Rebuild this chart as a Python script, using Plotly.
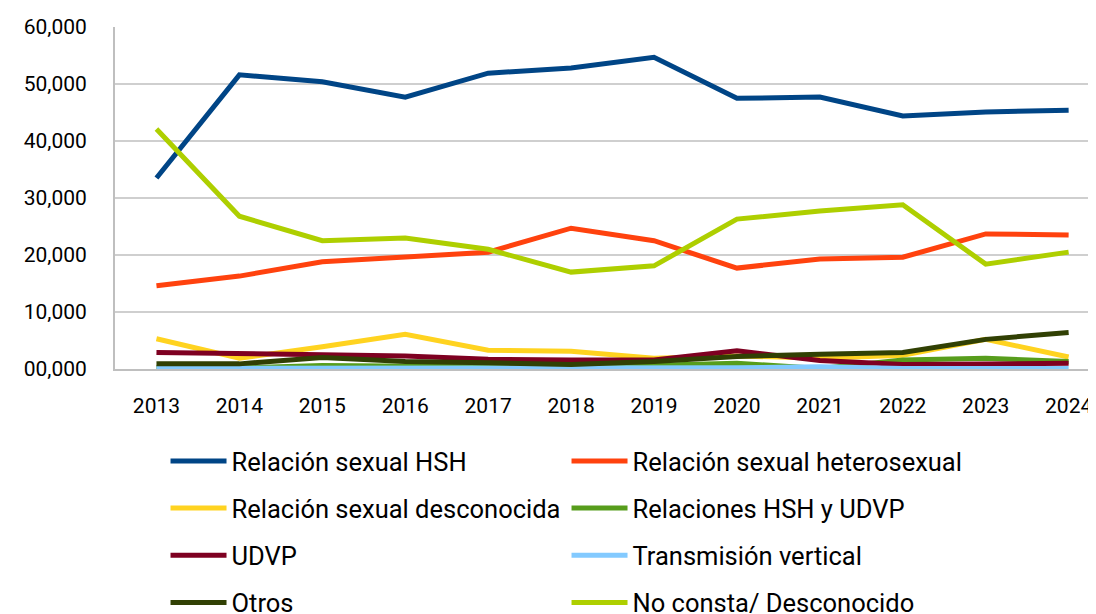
import plotly.graph_objects as go

years = ["2013", "2014", "2015", "2016", "2017", "2018",
         "2019", "2020", "2021", "2022", "2023", "2024"]

hsh = [33500, 51600, 50400, 47700, 51900, 52800, 54700, 47500, 47700, 44400, 45100, 45400]
hetero = [14600, 16300, 18800, 19600, 20500, 24700, 22500, 17700, 19300, 19600, 23700, 23500]
desconocida = [5300, 1900, 3900, 6100, 3300, 3100, 1900, 2300, 1900, 2400, 5200, 2100]
hsh_udvp = [200, 200, 600, 400, 400, 300, 700, 1000, 100, 1600, 1900, 1300]
udvp = [2900, 2600, 2500, 2300, 1700, 1600, 1600, 3200, 1500, 800, 1000, 1000]
vertical = [100, 100, 100, 100, 100, 100, 100, 200, 400, 100, 100, 100]
otros = [900, 900, 2000, 1300, 1100, 800, 1300, 2200, 2600, 2900, 5200, 6400]
no_consta = [42100, 26800, 22500, 23000, 21000, 17000, 18100, 26300, 27700, 28800, 18400, 20500]

y_ticks = [0, 10000, 20000, 30000, 40000, 50000, 60000]
y_labels = ["00,000", "10,000", "20,000", "30,000", "40,000", "50,000", "60,000"]

series = [
    ("Relación sexual HSH", hsh, "#004586", "legend"),
    ("Relación sexual heterosexual", hetero, "#ff420e", "legend"),
    ("Relación sexual desconocida", desconocida, "#ffd320", "legend2"),
    ("Relaciones HSH y UDVP", hsh_udvp, "#579d1c", "legend2"),
    ("UDVP", udvp, "#7e0021", "legend3"),
    ("Transmisión vertical", vertical, "#83caff", "legend3"),
    ("Otros", otros, "#314004", "legend4"),
    ("No consta/ Desconocido", no_consta, "#aecf00", "legend4"),
]

fig = go.Figure()
for name, vals, color, leg in series:
    fig.add_trace(go.Scatter(
        x=years, y=vals, name=name, mode="lines",
        line=dict(color=color, width=5),
        legend=leg
    ))

# one legend per row so the rows sit as far apart as in the original
legend_font = dict(family="Roboto, sans-serif", size=25.5, color="#000000")
row_y = [-0.270, -0.408, -0.546, -0.684]
legends = {}
for i, key in enumerate(["legend", "legend2", "legend3", "legend4"]):
    legends[key] = dict(
        orientation="h", x=0.0515, xanchor="left", y=row_y[i], yanchor="middle",
        entrywidth=330, entrywidthmode="pixels", font=legend_font,
        bgcolor="rgba(0,0,0,0)", itemwidth=56
    )

# the page adds an 8px body margin; the figure is a bit taller than the window
# so the bottom legend row does not squeeze the plot area
fig.update_layout(
    width=1088, height=622,
    margin=dict(l=107, r=0, t=19, b=261),
    paper_bgcolor="white", plot_bgcolor="white",
    font=dict(family="Roboto", size=21, color="#000000"),
    showlegend=True,
    xaxis=dict(
        type="category", range=[-0.5, 11.33], automargin=False,
        showline=True, linecolor="#bfbfbf", linewidth=2,
        showgrid=False, ticks="", ticklabelstandoff=17,
        ticklabeloverflow="allow",
        tickfont=dict(size=21)
    ),
    yaxis=dict(
        range=[0, 60000], tickvals=y_ticks, ticktext=y_labels, automargin=False,
        showline=True, linecolor="#bfbfbf", linewidth=2,
        showgrid=True, gridcolor="#cfcfcf", gridwidth=1.5,
        zeroline=False, ticks="", ticklabelstandoff=22,
        tickfont=dict(size=21)
    ),
    **legends
)

fig.write_html("out.html")
